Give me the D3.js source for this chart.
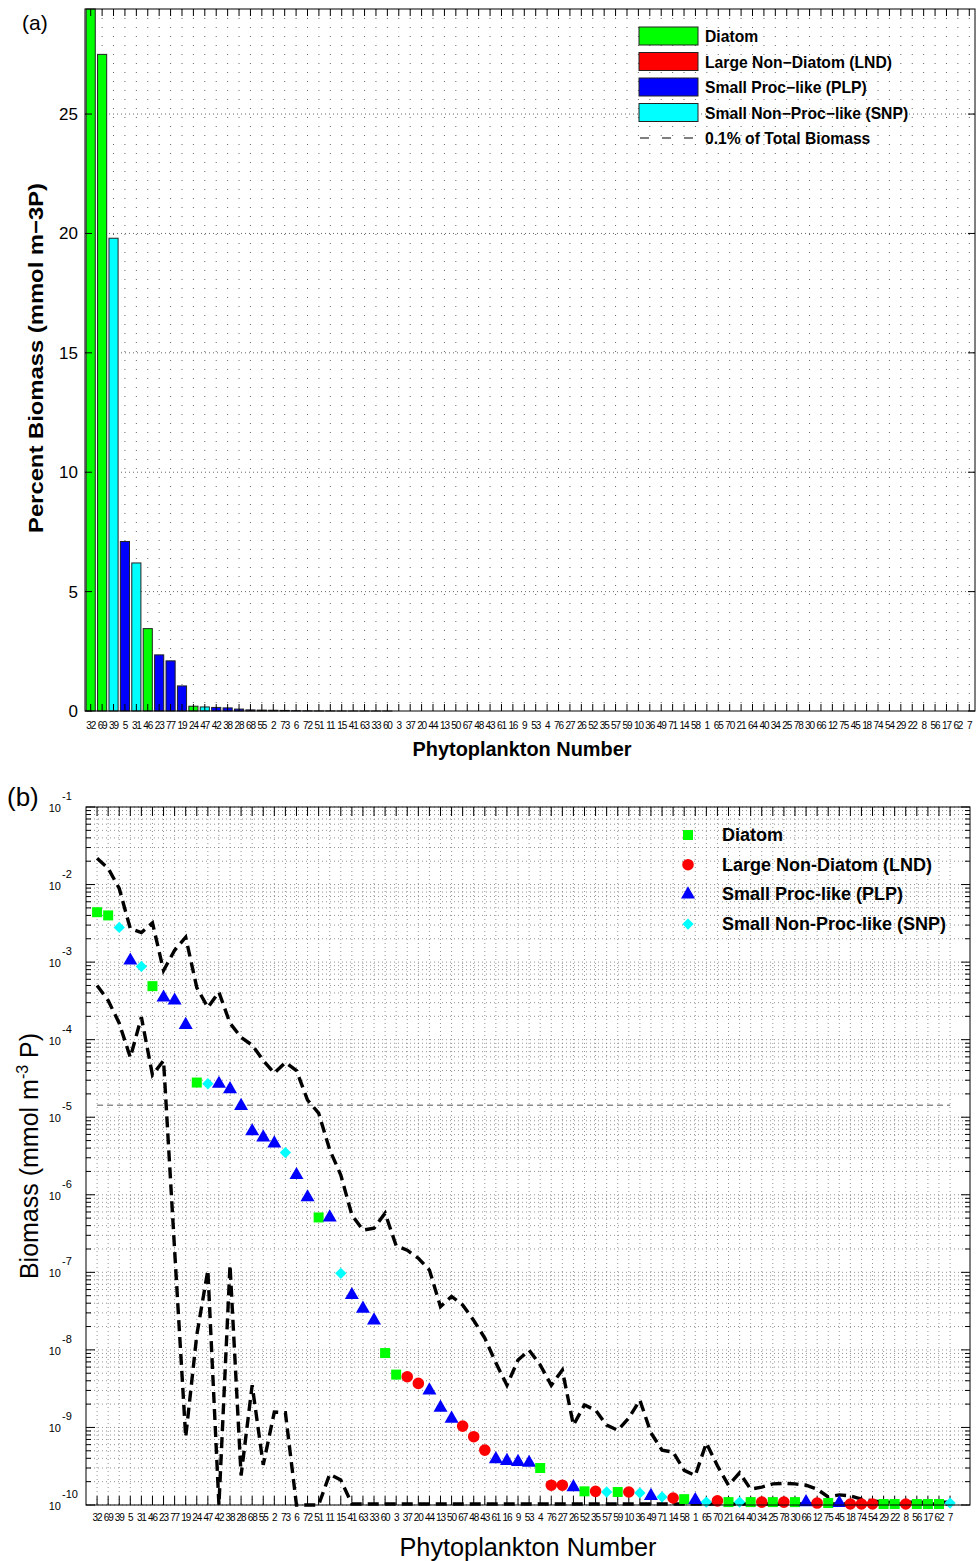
<!DOCTYPE html>
<html><head><meta charset="utf-8">
<script src="https://cdn.jsdelivr.net/npm/d3@7"></script>
<style>
body{margin:0;background:#fff}
svg{display:block}
text{font-family:"Liberation Sans",Arial,Helvetica,sans-serif;fill:#000}
</style>
</head><body>
<svg id="c" width="976" height="1561"></svg>
<script>
// ---------------- DATA ----------------
const phytoNumbers = [32,69,39,5,31,46,23,77,19,24,47,42,38,28,68,55,2,73,6,72,51,11,15,41,63,33,60,3,37,20,44,13,50,67,48,43,61,16,9,53,4,76,27,26,52,35,57,59,10,36,49,71,14,58,1,65,70,21,64,40,34,25,78,30,66,12,75,45,18,74,54,29,22,8,56,17,62,7];
// D = Diatom, L = Large Non-Diatom, P = Small Proc-like, S = Small Non-Proc-like
const phytoGroups = ["D","D","S","P","S","D","P","P","P","D",
  "S","P","P","P","P","P","P","S","P","P",
  "D","P","S","P","P","P","D","D","L","L",
  "P","P","P","L","L","L","P","P","P","P",
  "D","L","L","P","D","L","S","D","L","S",
  "P","S","L","D","P","S","L","D","S","D",
  "L","D","L","D","P","L","D","P","L","L",
  "L","D","D","L","D","D","D","S"];
// panel (a): percent biomass
const percentBiomass = [29.4,27.5,19.8,7.1,6.2,3.45,2.35,2.1,1.05,0.2,
  0.17,0.15,0.13,0.08,0.046,0.038,0.032,0.024,0.012,0.0064,
  0.0035,0.0035,0.0007,0.0004,0.0002,0.0002,0.0001,0,0,0,
  0,0,0,0,0,0,0,0,0,0, 0,0,0,0,0,0,0,0,0,0,
  0,0,0,0,0,0,0,0,0,0, 0,0,0,0,0,0,0,0,0,0,
  0,0,0,0,0,0,0,0];
// panel (b): biomass (mmol m-3 P)
const biomass = [4.4e-3,4.0e-3,2.8e-3,1.05e-3,8.8e-4,4.9e-4,3.5e-4,3.2e-4,1.55e-4,2.8e-5,
  2.7e-5,2.7e-5,2.3e-5,1.4e-5,6.6e-6,5.5e-6,4.6e-6,3.5e-6,1.8e-6,9.3e-7,
  5.1e-7,5.1e-7,9.7e-8,5.1e-8,3.4e-8,2.4e-8,9.1e-9,4.8e-9,4.5e-9,3.7e-9,
  3.0e-9,1.8e-9,1.3e-9,1.04e-9,7.6e-10,5.1e-10,3.9e-10,3.7e-10,3.6e-10,3.5e-10,
  3.0e-10,1.8e-10,1.8e-10,1.7e-10,1.5e-10,1.5e-10,1.47e-10,1.47e-10,1.47e-10,1.43e-10,
  1.31e-10,1.27e-10,1.23e-10,1.19e-10,1.16e-10,1.09e-10,1.13e-10,1.09e-10,1.09e-10,1.09e-10,
  1.09e-10,1.09e-10,1.09e-10,1.09e-10,1.09e-10,1.06e-10,1.06e-10,1.06e-10,1.03e-10,1.03e-10,
  1.03e-10,1.03e-10,1.03e-10,1.03e-10,1.03e-10,1.03e-10,1.03e-10,1.06e-10];
const upperEnvelope = [2.18e-2,1.62e-2,8.9e-3,2.7e-3,2.4e-3,3.2e-3,7.8e-4,1.42e-3,2.1e-3,4.7e-4,
  2.6e-4,4.1e-4,1.63e-4,1.07e-4,8.5e-5,5.4e-5,3.7e-5,5.1e-5,4.0e-5,1.66e-5,
  1.13e-5,3.8e-6,1.8e-6,5.5e-7,3.5e-7,3.7e-7,5.8e-7,2.2e-7,1.93e-7,1.52e-7,
  1.07e-7,3.6e-8,4.9e-8,3.8e-8,2.4e-8,1.42e-8,6.8e-9,3.5e-9,7.4e-9,9.9e-9,
  6.4e-9,3.5e-9,5.5e-9,1.07e-9,1.95e-9,1.67e-9,1.07e-9,9.2e-10,1.32e-9,2.25e-9,
  8.5e-10,5.1e-10,4.8e-10,2.8e-10,2.4e-10,6.3e-10,3.2e-10,1.8e-10,2.6e-10,1.6e-10,
  1.7e-10,1.87e-10,1.9e-10,1.87e-10,1.8e-10,1.6e-10,1.27e-10,1.35e-10,1.31e-10,1.19e-10,
  1.13e-10,1.09e-10,1.09e-10,1.09e-10,1.09e-10,1.09e-10,1.09e-10,1.09e-10];
const lowerEnvelope = [5.0e-4,3.2e-4,1.63e-4,5.9e-5,1.95e-4,3.5e-5,5.4e-5,1.93e-7,7.5e-10,1.55e-8,
  1.07e-7,1.0e-10,1.24e-7,2.4e-10,3.5e-9,3.3e-10,1.58e-9,1.55e-9,1.0e-10,1.0e-10,
  1.0e-10,2.5e-10,2.1e-10,1.03e-10,1.03e-10,1.03e-10,1.03e-10,1.03e-10,1.03e-10,1.03e-10,
  1.03e-10,1.03e-10,1.03e-10,1.03e-10,1.03e-10,1.03e-10,1.03e-10,1.03e-10,1.03e-10,1.03e-10,
  1.03e-10,1.03e-10,1.03e-10,1.03e-10,1.03e-10,1.03e-10,1.03e-10,1.03e-10,1.03e-10,1.03e-10,
  1.03e-10,1.03e-10,1.03e-10,1.03e-10,1.03e-10,1.03e-10,1.03e-10,1.03e-10,1.03e-10,1.03e-10,
  1.03e-10,1.03e-10,1.03e-10,1.03e-10,1.03e-10,1.03e-10,1.03e-10,1.03e-10,1.03e-10,1.03e-10,
  1.03e-10,1.03e-10,1.03e-10,1.03e-10,1.03e-10,1.03e-10,1.03e-10,1.03e-10];
const threshold = 1.43e-5; // 0.1% of total biomass
const groupKeys = ["D","L","P","S"];
const groupNames = ["Diatom","Large Non\u2212Diatom (LND)","Small Proc\u2212like (PLP)","Small Non\u2212Proc\u2212like (SNP)"];
const groupNamesB = ["Diatom","Large Non-Diatom (LND)","Small Proc-like (PLP)","Small Non-Proc-like (SNP)"];
const groupColors = ["#00ff00","#ff0000","#0000ff","#00ffff"];
const yTicksA = [0,5,10,15,20,25];
const yExpB = [-10,-9,-8,-7,-6,-5,-4,-3,-2,-1];

// ---------------- DRAW ----------------
const svg = d3.select("#c");
const color = d3.scaleOrdinal(groupKeys, groupColors);
const idx = d3.range(phytoNumbers.length);

// ===== Panel (a) =====
const A = {l:85, r:975, t:9, b:711};
const xA = d3.scaleLinear().domain([0.5, phytoNumbers.length + 0.5]).range([A.l, A.r]);
const yA = d3.scaleLinear().domain([0, 29.4]).range([A.b, A.t]);
const ga = svg.append("g");

// grid
ga.append("g").selectAll("line").data(idx).join("line")
  .attr("x1", i => xA(i+1)).attr("x2", i => xA(i+1)).attr("y1", A.t).attr("y2", A.b)
  .attr("stroke", "#666").attr("stroke-width", 1).attr("stroke-dasharray", "1,8");
ga.append("g").selectAll("line").data(yTicksA.slice(1)).join("line")
  .attr("x1", A.l).attr("x2", A.r).attr("y1", d => yA(d)).attr("y2", d => yA(d))
  .attr("stroke", "#666").attr("stroke-width", 1).attr("stroke-dasharray", "1,3");

// bars
const bw = (xA(2) - xA(1)) * 0.8;
ga.append("g").selectAll("rect").data(idx).join("rect")
  .attr("x", i => xA(i+1) - bw/2).attr("width", bw)
  .attr("y", i => yA(percentBiomass[i])).attr("height", i => A.b - yA(percentBiomass[i]))
  .attr("fill", i => color(phytoGroups[i])).attr("stroke", "#222").attr("stroke-width", 1);

// ticks top/bottom
ga.append("g").selectAll("line").data(idx).join("line")
  .attr("x1", i => xA(i+1)).attr("x2", i => xA(i+1)).attr("y1", A.t).attr("y2", A.t+7)
  .attr("stroke", "#000");
ga.append("g").selectAll("line").data(idx).join("line")
  .attr("x1", i => xA(i+1)).attr("x2", i => xA(i+1)).attr("y1", A.b).attr("y2", A.b-7)
  .attr("stroke", "#000");
ga.append("g").selectAll("line").data(yTicksA).join("line")
  .attr("x1", A.l).attr("x2", A.l+7).attr("y1", d => yA(d)).attr("y2", d => yA(d)).attr("stroke", "#000");
ga.append("g").selectAll("line").data(yTicksA).join("line")
  .attr("x1", A.r).attr("x2", A.r-7).attr("y1", d => yA(d)).attr("y2", d => yA(d)).attr("stroke", "#000");
// frame
ga.append("rect").attr("x", A.l).attr("y", A.t).attr("width", A.r-A.l).attr("height", A.b-A.t)
  .attr("fill", "none").attr("stroke", "#000").attr("stroke-width", 1);

// tick labels
ga.append("g").selectAll("text").data(yTicksA).join("text")
  .attr("x", A.l-7).attr("y", d => yA(d)+6).attr("text-anchor", "end")
  .style("font-size", "17px").text(d => d);
ga.append("g").selectAll("text").data(idx).join("text")
  .attr("x", i => xA(i+1)).attr("y", A.b+18).attr("text-anchor", "middle")
  .style("font-size", "10px").style("letter-spacing", "-1.1px").text(i => phytoNumbers[i]);

// titles
ga.append("text").attr("x", 522).attr("y", 756).attr("text-anchor", "middle")
  .attr("textLength", 219).attr("lengthAdjust", "spacingAndGlyphs")
  .style("font-size", "20px").style("font-weight", "bold").text("Phytoplankton Number");
ga.append("text").attr("transform", "translate(43,358) rotate(-90)").attr("text-anchor", "middle")
  .attr("textLength", 350).attr("lengthAdjust", "spacingAndGlyphs")
  .style("font-size", "21px").style("font-weight", "bold").text("Percent Biomass (mmol m\u22123P)");
ga.append("text").attr("x", 22).attr("y", 30).style("font-size", "21px").text("(a)");

// legend (a)
const la = ga.append("g");
groupKeys.forEach((k, j) => {
  const y = 27 + j*25.5;
  la.append("rect").attr("x", 639).attr("y", y).attr("width", 59).attr("height", 18)
    .attr("fill", groupColors[j]).attr("stroke", "#222");
  la.append("text").attr("x", 705).attr("y", y+15).style("font-size", "15.7px").style("font-weight", "bold").text(groupNames[j]);
});
la.append("line").attr("x1", 640).attr("x2", 698).attr("y1", 138).attr("y2", 138)
  .attr("stroke", "#000").attr("stroke-dasharray", "9,13");
la.append("text").attr("x", 705).attr("y", 144).style("font-size", "15.7px").style("font-weight", "bold").text("0.1% of Total Biomass");

// ===== Panel (b) =====
const B = {l:86, r:970, t:807, b:1505};
const xB = d3.scaleLinear().domain([0, 79.8]).range([B.l, B.r]);
const yB = d3.scaleLog().domain([1e-10, 1e-1]).range([B.b, B.t]);
const gb = svg.append("g");

// grid: minor & major horizontal
const minorVals = [];
yExpB.slice(0, -1).forEach(e => { for (let m = 1; m <= 9; m++) minorVals.push(m * Math.pow(10, e)); });
minorVals.push(1e-1);
gb.append("g").selectAll("line").data(minorVals).join("line")
  .attr("x1", B.l).attr("x2", B.r).attr("y1", d => yB(d)).attr("y2", d => yB(d))
  .attr("stroke", "#777").attr("stroke-width", 0.8).attr("stroke-dasharray", "1,3");
gb.append("g").selectAll("line").data(idx).join("line")
  .attr("x1", i => xB(i+1)).attr("x2", i => xB(i+1)).attr("y1", B.t).attr("y2", B.b)
  .attr("stroke", "#777").attr("stroke-width", 0.8).attr("stroke-dasharray", "1,3");

// y ticks (major and minor) left & right
const isMajor = d => Math.abs(Math.log10(d) - Math.round(Math.log10(d))) < 1e-6;
gb.append("g").selectAll("line").data(minorVals).join("line")
  .attr("x1", B.l).attr("x2", d => B.l + (isMajor(d) ? 9 : 5))
  .attr("y1", d => yB(d)).attr("y2", d => yB(d)).attr("stroke", "#000");
gb.append("g").selectAll("line").data(minorVals).join("line")
  .attr("x1", B.r).attr("x2", d => B.r - (isMajor(d) ? 9 : 5))
  .attr("y1", d => yB(d)).attr("y2", d => yB(d)).attr("stroke", "#000");
// x ticks
gb.append("g").selectAll("line").data(idx).join("line")
  .attr("x1", i => xB(i+1)).attr("x2", i => xB(i+1)).attr("y1", B.b).attr("y2", B.b-9).attr("stroke", "#000");
gb.append("g").selectAll("line").data(idx).join("line")
  .attr("x1", i => xB(i+1)).attr("x2", i => xB(i+1)).attr("y1", B.t).attr("y2", B.t+9).attr("stroke", "#000");

// threshold line
gb.append("line").attr("x1", xB(1)).attr("x2", xB(phytoNumbers.length)).attr("y1", yB(threshold)).attr("y2", yB(threshold))
  .attr("stroke", "#555").attr("stroke-width", 1).attr("stroke-dasharray", "6,4");

// envelopes
const clipId = "clipB";
svg.append("defs").append("clipPath").attr("id", clipId).append("rect")
  .attr("x", B.l).attr("y", B.t).attr("width", B.r-B.l).attr("height", B.b-B.t+2);
const line = d3.line().x((d, i) => xB(i+1)).y(d => yB(d));
[upperEnvelope, lowerEnvelope].forEach(arr => {
  gb.append("path").datum(arr).attr("d", line).attr("fill", "none")
    .attr("stroke", "#000").attr("stroke-width", 3.4).attr("stroke-dasharray", "11,6")
    .attr("clip-path", `url(#${clipId})`);
});

// markers
const shapes = {D: d3.symbolSquare, L: d3.symbolCircle, P: d3.symbolTriangle, S: d3.symbolSquare};
const sizes = {D: 100, L: 105, P: 85, S: 64};
const rot = {D: 0, L: 0, P: 0, S: 45};
gb.append("g").selectAll("path").data(idx).join("path")
  .attr("transform", i => `translate(${xB(i+1)},${yB(biomass[i])}) rotate(${rot[phytoGroups[i]]})`)
  .attr("d", i => d3.symbol(shapes[phytoGroups[i]], sizes[phytoGroups[i]])())
  .attr("fill", i => color(phytoGroups[i]));

// frame
gb.append("rect").attr("x", B.l).attr("y", B.t).attr("width", B.r-B.l).attr("height", B.b-B.t)
  .attr("fill", "none").attr("stroke", "#000").attr("stroke-width", 1);

// y tick labels
const yl = gb.append("g").selectAll("g").data(yExpB).join("g")
  .attr("transform", e => `translate(0,${yB(Math.pow(10, e))})`);
yl.append("text").attr("x", 61).attr("y", 5).attr("text-anchor", "end").style("font-size", "11px").text("10");
yl.append("text").attr("x", 62).attr("y", -7).style("font-size", "11px").text(e => e);

// x tick labels
gb.append("g").selectAll("text").data(idx).join("text")
  .attr("x", i => xB(i+1)).attr("y", B.b+16).attr("text-anchor", "middle")
  .style("font-size", "10px").style("letter-spacing", "-1.1px").text(i => phytoNumbers[i]);

// titles
gb.append("text").attr("x", 528).attr("y", 1556).attr("text-anchor", "middle")
  .attr("textLength", 257).attr("lengthAdjust", "spacingAndGlyphs")
  .style("font-size", "25px").text("Phytoplankton Number");
const yt = gb.append("text").attr("transform", "translate(38,1156) rotate(-90)").attr("text-anchor", "middle")
  .style("font-size", "25px");
yt.append("tspan").text("Biomass (mmol m");
yt.append("tspan").attr("dy", -10).style("font-size", "16px").text("-3");
yt.append("tspan").attr("dy", 10).text(" P)");
gb.append("text").attr("x", 7).attr("y", 806).style("font-size", "26px").text("(b)");

// legend (b)
const lb = gb.append("g");
groupKeys.forEach((k, j) => {
  const y = 835 + j*29.7;
  lb.append("path").attr("transform", `translate(688,${y}) rotate(${rot[k]})`)
    .attr("d", d3.symbol(shapes[k], sizes[k])()).attr("fill", groupColors[j]);
  lb.append("text").attr("x", 722).attr("y", y+6).style("font-size", "18px").style("font-weight", "bold").text(groupNamesB[j]);
});
</script>
</body></html>
